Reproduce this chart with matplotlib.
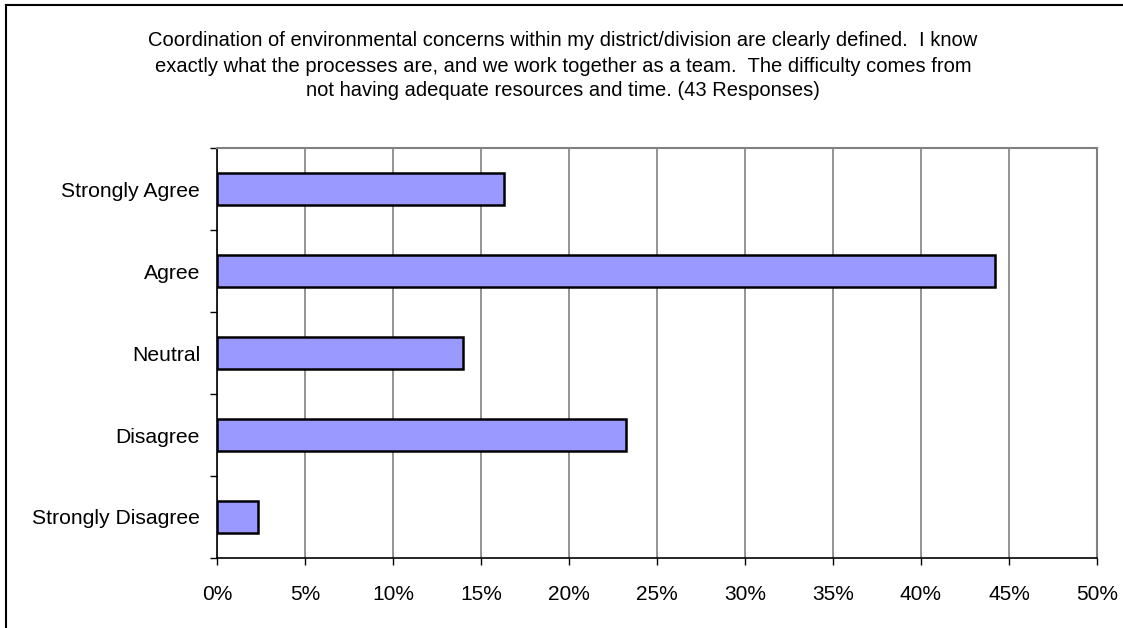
import matplotlib
matplotlib.use("Agg")
import matplotlib.pyplot as plt
from matplotlib.lines import Line2D
from matplotlib.ticker import MultipleLocator, PercentFormatter

plt.rcParams['font.family'] = ['Liberation Sans', 'DejaVu Sans']

categories = ["Strongly Agree", "Agree", "Neutral", "Disagree", "Strongly Disagree"]
responses = [7, 19, 6, 10, 1]
total_responses = 43
shares = [100.0 * r / total_responses for r in responses]

title = ("Coordination of environmental concerns within my district/division are clearly defined.  I know\n"
         "exactly what the processes are, and we work together as a team.  The difficulty comes from\n"
         "not having adequate resources and time. (43 Responses)")

W, H = 1123, 628
fig = plt.figure(figsize=(W / 100, H / 100), dpi=100)

# outer frame (top and left edges)
fig.add_artist(Line2D([6 / W, 6 / W], [0, 1 - 5 / H], color="black", lw=1.5, transform=fig.transFigure))
fig.add_artist(Line2D([6 / W, 1], [1 - 5 / H, 1 - 5 / H], color="black", lw=1.5, transform=fig.transFigure))

left, right, top, bottom = 217, 1097, 148, 558
ax = fig.add_axes([left / W, 1 - bottom / H, (right - left) / W, (bottom - top) / H])

y = list(range(len(categories)))
ax.barh(y, shares, height=0.4, color="#9999FF", edgecolor="black", linewidth=1.8, zorder=3)

ax.set_xlim(0, 50)
ax.set_ylim(len(categories) - 0.5, -0.5)
ax.xaxis.set_major_locator(MultipleLocator(5))
ax.xaxis.set_major_formatter(PercentFormatter(decimals=0))
ax.grid(axis="x", color="#808080", linewidth=1.2, zorder=0)

ax.set_yticks(y)
ax.set_yticklabels(categories)
ax.set_yticks([i - 0.5 for i in range(len(categories) + 1)], minor=True)
ax.tick_params(axis="y", which="major", length=0, pad=12.2, labelsize=15.2)
ax.tick_params(axis="y", which="minor", length=5, width=1, color="black", direction="out")
ax.tick_params(axis="x", length=5, width=1, color="black", direction="out", pad=14.3, labelsize=15)

for side in ("top", "right"):
    ax.spines[side].set_color("#808080")
    ax.spines[side].set_linewidth(1.5)
for side in ("left", "bottom"):
    ax.spines[side].set_color("black")
    ax.spines[side].set_linewidth(1.2)

fig.text(563 / W, 1 - 31.5 / H, title, ha="center", va="top",
         fontsize=14.5, linespacing=1.4)

fig.savefig("out.png", dpi=100)
